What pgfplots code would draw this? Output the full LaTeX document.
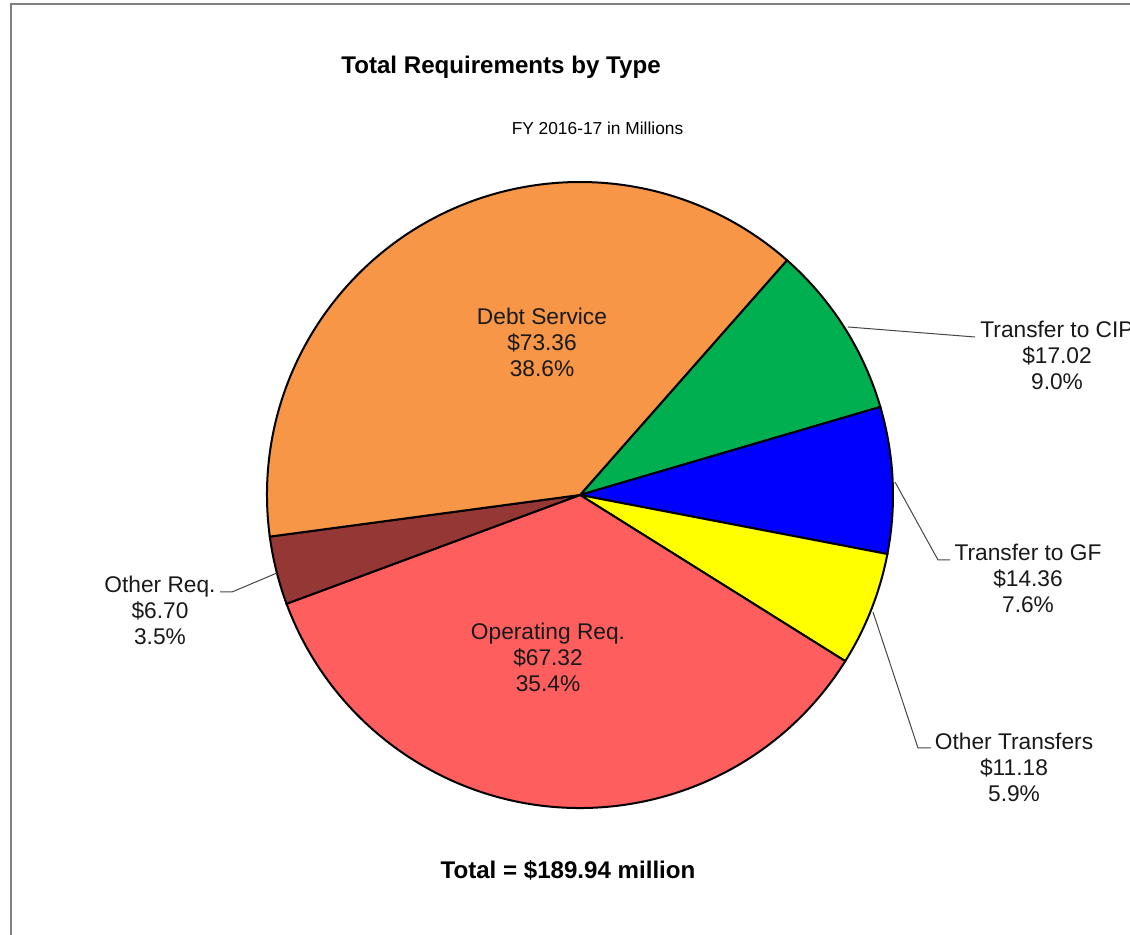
\documentclass[border=0pt]{standalone}
\usepackage{fontspec}
\setmainfont{Liberation Sans}
\usepackage{pgfplots}
\pgfplotsset{compat=1.18}
\definecolor{cOrange}{RGB}{247,150,70}
\definecolor{cGreen}{RGB}{0,176,80}
\definecolor{cBlue}{RGB}{0,0,255}
\definecolor{cYellow}{RGB}{255,255,0}
\definecolor{cRed}{RGB}{255,94,94}
\definecolor{cBrown}{RGB}{149,55,53}
\definecolor{cFrame}{RGB}{128,128,128}
\definecolor{cLead}{RGB}{70,70,70}
% slice values (FY 2016-17, $ millions), clockwise order
\def\vCIP{17.02}
\def\vGF{14.36}
\def\vOT{11.18}
\def\vOR{67.32}
\def\vORq{6.70}
\def\vDS{73.36}
\pgfmathsetmacro{\tot}{\vCIP+\vGF+\vOT+\vOR+\vORq+\vDS}
\pgfmathsetmacro{\k}{360/\tot}
\pgfmathsetmacro{\aA}{48.6}
\pgfmathsetmacro{\aB}{\aA-\k*\vCIP}
\pgfmathsetmacro{\aC}{\aB-\k*\vGF}
\pgfmathsetmacro{\aD}{\aC-\k*\vOT}
\pgfmathsetmacro{\aE}{\aD-\k*\vOR}
\pgfmathsetmacro{\aF}{\aE-\k*\vORq}
\pgfmathsetmacro{\aG}{\aF-\k*\vDS}
\def\R{156.5bp}
\begin{document}%
\begin{tikzpicture}
\begin{axis}[scale only axis,
  width=565bp,height=467.5bp,xmin=0,xmax=1130,ymin=0,ymax=935,
  hide axis,clip=false]
\coordinate (LL) at (axis cs:0,0);
\coordinate (UR) at (axis cs:1130,935);
% frame
\draw[cFrame,line width=1bp] (axis cs:11,-5) -- (axis cs:11,931) -- (axis cs:1140,931);
% wedges
\filldraw[fill=cGreen,draw=black,line width=1bp] (axis cs:580,440) -- ++(\aA:\R) arc[start angle=\aA,end angle=\aB,radius=\R] -- cycle;
\filldraw[fill=cBlue,draw=black,line width=1bp] (axis cs:580,440) -- ++(\aB:\R) arc[start angle=\aB,end angle=\aC,radius=\R] -- cycle;
\filldraw[fill=cYellow,draw=black,line width=1bp] (axis cs:580,440) -- ++(\aC:\R) arc[start angle=\aC,end angle=\aD,radius=\R] -- cycle;
\filldraw[fill=cRed,draw=black,line width=1bp] (axis cs:580,440) -- ++(\aD:\R) arc[start angle=\aD,end angle=\aE,radius=\R] -- cycle;
\filldraw[fill=cBrown,draw=black,line width=1bp] (axis cs:580,440) -- ++(\aE:\R) arc[start angle=\aE,end angle=\aF,radius=\R] -- cycle;
\filldraw[fill=cOrange,draw=black,line width=1bp] (axis cs:580,440) -- ++(\aF:\R) arc[start angle=\aF,end angle=\aG,radius=\R] -- cycle;
% leader lines
\draw[cLead,line width=0.5bp] (axis cs:848,608) -- (axis cs:975,598);
\draw[cLead,line width=0.5bp] (axis cs:895,453) -- (axis cs:938,375) -- (axis cs:950,375);
\draw[cLead,line width=0.5bp] (axis cs:873,323) -- (axis cs:918,187) -- (axis cs:931,187);
\draw[cLead,line width=0.5bp] (axis cs:277,362) -- (axis cs:232,343) -- (axis cs:220,343);
% labels
\tikzset{lbl/.style={align=center,inner sep=0pt,font=\fontsize{11.4}{13}\selectfont,text=black!90}}
\node[lbl] at (axis cs:542,593) {Debt Service\\\$73.36\\38.6\%};
\node[lbl] at (axis cs:548,278) {Operating Req.\\\$67.32\\35.4\%};
\node[lbl] at (axis cs:1057,580) {Transfer to CIP\\\$17.02\\9.0\%};
\node[lbl] at (axis cs:1028,357) {Transfer to GF\\\$14.36\\7.6\%};
\node[lbl] at (axis cs:1014,168) {Other Transfers\\\$11.18\\5.9\%};
\node[lbl] at (axis cs:160,325) {Other Req.\\\$6.70\\3.5\%};
% titles
\node[inner sep=0pt,font=\fontsize{12.1}{14}\selectfont\bfseries] at (axis cs:501,868) {Total Requirements by Type};
\node[inner sep=0pt,font=\fontsize{8.7}{10}\selectfont] at (axis cs:597.5,807) {FY 2016-17 in Millions};
\node[inner sep=0pt,font=\fontsize{12.1}{14}\selectfont\bfseries] at (axis cs:568,65) {Total = \$189.94 million};
\end{axis}
\pgfresetboundingbox
\useasboundingbox (LL) rectangle (UR);
\end{tikzpicture}%
\end{document}
